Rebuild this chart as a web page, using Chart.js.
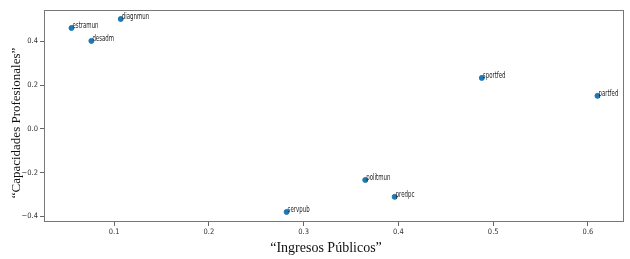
<!DOCTYPE html>
<html>
<head>
<meta charset="utf-8">
<script src="https://cdn.jsdelivr.net/npm/chart.js@4/dist/chart.umd.min.js"></script>
<style>
  html, body { margin: 0; padding: 0; background: #fff; }
  #wrap { width: 630px; height: 259px; }
</style>
</head>
<body>
<div id="wrap"><canvas id="myChart"></canvas></div>
<script>
const names = ['estramun', 'diagnmun', 'desadm', 'sportfed', 'partfed', 'politmun', 'predpc', 'servpub'];
const ingresos = [0.055, 0.107, 0.076, 0.488, 0.610, 0.365, 0.396, 0.282];
const capacidades = [0.461, 0.502, 0.402, 0.233, 0.151, -0.233, -0.310, -0.379];
const xTicks = [0.1, 0.2, 0.3, 0.4, 0.5, 0.6];
const yTicks = [-0.4, -0.2, 0.0, 0.2, 0.4];
const xTitle = '“Ingresos Públicos”';
const yTitle = '“Capacidades Profesionales”';

const narrow = '"Liberation Sans Narrow", "DejaVu Sans Condensed", sans-serif';

// point names, squeezed a bit like the original
const pointLabels = {
    id: 'pointLabels',
    afterDatasetsDraw(chart) {
        let ctx = chart.ctx;
        let meta = chart.getDatasetMeta(0);
        ctx.save();
        ctx.font = '8px "DejaVu Sans"';
        ctx.fillStyle = '#222';
        ctx.textAlign = 'left';
        ctx.textBaseline = 'middle';
        meta.data.forEach((pt, i) => {
            ctx.save();
            ctx.translate(pt.x + 1, pt.y - 2);
            ctx.scale(0.68, 1);
            ctx.fillText(names[i], 0, 0);
            ctx.restore();
        });
        ctx.restore();
    }
};

// box + axis titles
const frame = {
    id: 'frame',
    afterDraw(chart) {
        let a = chart.chartArea;
        let ctx = chart.ctx;
        ctx.save();
        ctx.strokeStyle = '#777';
        ctx.lineWidth = 1;
        ctx.strokeRect(a.left + 0.5, a.top + 0.5, a.right - a.left - 1, a.bottom - a.top - 1);

        ctx.fillStyle = '#111';
        ctx.textAlign = 'center';
        ctx.textBaseline = 'middle';
        ctx.font = '14px "Liberation Serif"';
        ctx.fillText(xTitle, (a.left + a.right) / 2 - 8, 248);

        ctx.font = '13px "Liberation Serif"';
        ctx.translate(17, (a.top + a.bottom) / 2 + 7);
        ctx.rotate(-Math.PI / 2);
        ctx.fillText(yTitle, 0, 0);
        ctx.restore();
    }
};

let ctx = document.getElementById('myChart');

new Chart(ctx, {
    type: 'scatter',
    data: {
        datasets: [{
            data: ingresos.map((x, i) => ({ x: x, y: capacidades[i] })),
            backgroundColor: '#1f77b4',
            borderColor: '#1f77b4',
            pointRadius: 2.5,
            pointHoverRadius: 2.5
        }]
    },
    options: {
        responsive: true,
        maintainAspectRatio: false,
        animation: false,
        layout: {
            padding: { top: 10, right: 6, left: 0, bottom: 0 }
        },
        plugins: {
            legend: { display: false },
            tooltip: { enabled: false }
        },
        scales: {
            x: {
                type: 'linear',
                min: 0.026,
                max: 0.638,
                afterBuildTicks: (scale) => { scale.ticks = xTicks.map(v => ({ value: v })); },
                afterFit: (scale) => { scale.height = 37; },
                ticks: {
                    color: '#333',
                    font: { family: narrow, size: 7.5 },
                    padding: 2,
                    maxRotation: 0,
                    callback: (v) => v.toFixed(1)
                },
                grid: {
                    display: true,
                    drawOnChartArea: false,
                    tickLength: 4,
                    color: '#666'
                },
                border: { display: false }
            },
            y: {
                type: 'linear',
                min: -0.425,
                max: 0.543,
                afterBuildTicks: (scale) => { scale.ticks = yTicks.map(v => ({ value: v })); },
                afterFit: (scale) => { scale.width = 44; },
                ticks: {
                    color: '#333',
                    font: { family: narrow, size: 7.5 },
                    padding: 2,
                    callback: (v) => (v < 0 ? '−' : '') + Math.abs(v).toFixed(1)
                },
                grid: {
                    display: true,
                    drawOnChartArea: false,
                    tickLength: 4,
                    color: '#666'
                },
                border: { display: false }
            }
        }
    },
    plugins: [pointLabels, frame]
});
</script>
</body>
</html>
